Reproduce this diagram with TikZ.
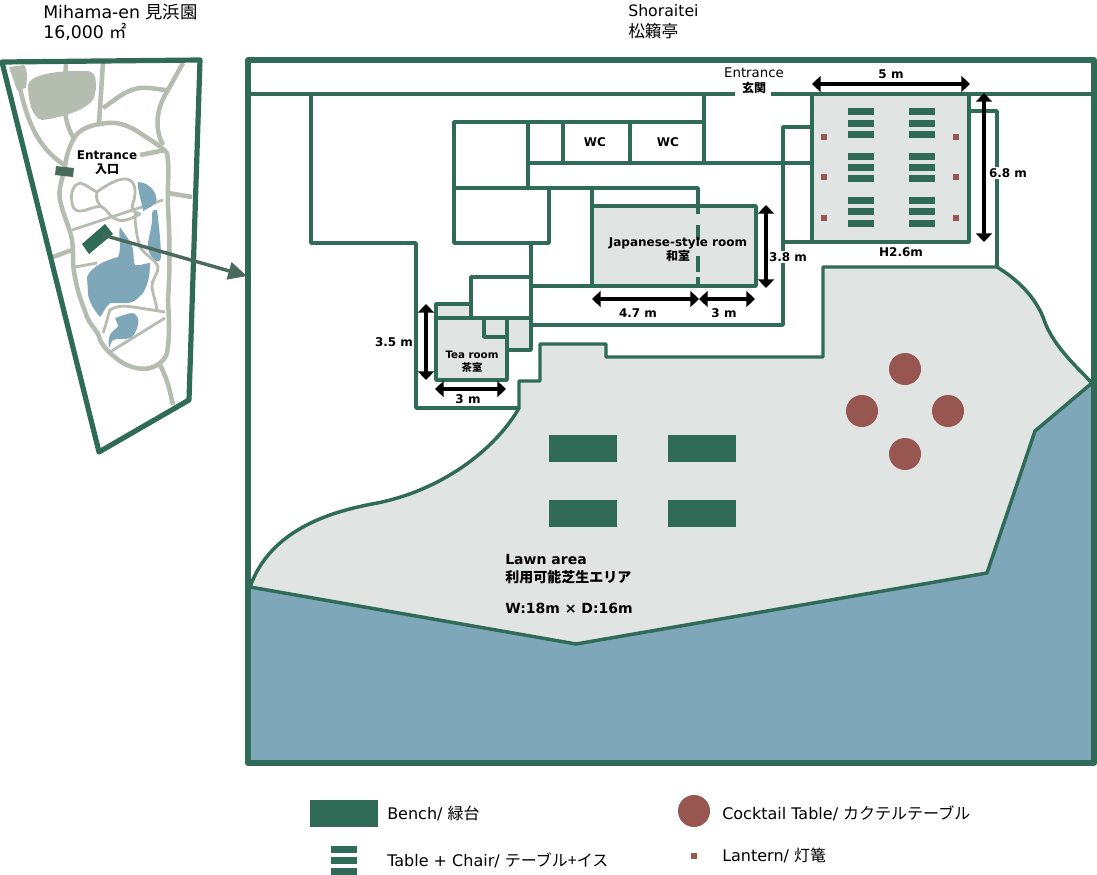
\documentclass[tikz,border=0pt]{standalone}
\usepackage{fontspec}
\setmainfont{DejaVu Sans}
\newfontfamily\jpfont{Noto Sans CJK JP}
\newcommand{\jp}[1]{{\jpfont #1}}
\usetikzlibrary{arrows.meta}
\definecolor{planGreen}{HTML}{2F6B57}
\definecolor{markGreen}{HTML}{4A6B5B}
\definecolor{lawnGrey}{HTML}{E0E4E2}
\definecolor{waterBlue}{HTML}{7FA7BA}
\definecolor{pathGrey}{HTML}{B5BCB0}
\definecolor{tableBrown}{HTML}{985650}

\begin{document}
\begin{tikzpicture}[x=0.75pt, y=-0.75pt,
	wall/.style={draw=planGreen, line width=2.6pt, line join=round},
	frameline/.style={draw=planGreen, line width=3.9pt, line join=round},
	gardenpath/.style={draw=pathGrey, line width=3.4pt, line join=round},
	thinpath/.style={draw=pathGrey, line width=2.1pt, line join=round},
	dimarrow/.style={draw=black, line width=2.5pt, {Triangle[length=6.5pt, width=12pt]}-{Triangle[length=6.5pt, width=12pt]}},
	bench/.style={rectangle, fill=planGreen, inner sep=0pt, minimum width=51pt, minimum height=20.25pt},
	tablebar/.style={rectangle, fill=planGreen, inner sep=0pt, minimum width=20pt, minimum height=5.25pt},
	lantern/.style={rectangle, fill=tableBrown, inner sep=0pt, minimum size=5pt},
	cocktail/.style={circle, fill=tableBrown, inner sep=0pt, minimum size=24pt},
	titlelabel/.style={inner sep=0pt, anchor=west, font=\fontsize{13}{15}\selectfont},
	dimlabel/.style={inner sep=1pt, font=\fontsize{9}{11}\selectfont\bfseries},
	roomlabel/.style={inner sep=0pt, align=center, font=\fontsize{9}{10.5}\selectfont\bfseries},
	legendlabel/.style={inner sep=0pt, anchor=west, font=\fontsize{12}{14}\selectfont},
	lawnlabel/.style={inner sep=0pt, anchor=west, font=\fontsize{10.5}{13}\selectfont\bfseries}]
	\useasboundingbox (0,0) rectangle (1097,875);

	\fill[pathGrey] (28,85) .. controls (30,74) and (60,70) .. (88,71) .. controls (98,72) and (97,88) .. (94,98) .. controls (88,110) and (60,118) .. (42,120) .. controls (32,118) and (28,100) .. (28,85) -- cycle;
	\fill[pathGrey] (9,67) -- (24,65) .. controls (28,70) and (27,80) .. (26,88) -- (17,90) -- cycle;
	\draw[gardenpath] (20,88) .. controls (28,125) and (40,150) .. (66,166);
	\draw[gardenpath] (66,63) .. controls (65,85) and (60,115) .. (73,137);
	\draw[gardenpath] (103,63) -- (99,123);
	\draw[gardenpath] (103,108) .. controls (115,100) and (125,90) .. (140,88) .. controls (150,87) and (160,90) .. (168,90) -- (183,63);
	\draw[gardenpath] (168,90) .. controls (155,110) and (155,130) .. (163,145);
	\draw[gardenpath] (140,155) -- (165,150);
	\draw[gardenpath] (168,193) -- (192,197);
	\draw[gardenpath] (53,257) -- (72,250);
	\draw[gardenpath] (160,365) .. controls (168,380) and (170,392) .. (173,405);
	\draw[gardenpath] (107,123) .. controls (88,125) and (78,130) .. (73,140) .. controls (68,150) and (66,158) .. (65,167) .. controls (62,180) and (58,190) .. (60,200) .. controls (63,215) and (70,228) .. (72,240) .. controls (74,255) and (72,265) .. (75,277) .. controls (78,295) and (84,308) .. (87,317) .. controls (92,328) and (98,330) .. (100,340) .. controls (105,350) and (115,358) .. (123,363) .. controls (132,368) and (142,370) .. (150,368) .. controls (158,366) and (165,360) .. (167,353) .. controls (170,335) and (169,320) .. (168,300) .. controls (170,270) and (170,240) .. (168,207) .. controls (167,185) and (170,170) .. (167,153) .. controls (160,145) and (150,140) .. (140,133) .. controls (128,125) and (118,122) .. (107,123) -- cycle;
	\draw[thinpath] (72,230) -- (163,200);
	\draw[thinpath] (72,202) .. controls (70,192) and (74,184) .. (80,183) .. controls (86,184) and (92,190) .. (97,192) .. controls (105,186) and (118,178) .. (126,179) .. controls (136,180) and (136,192) .. (134,200) .. controls (132,205) and (131,210) .. (135,212) -- (140,214) .. controls (133,218) and (124,222) .. (118,220) .. controls (110,218) and (106,208) .. (102,207) .. controls (95,205) and (85,212) .. (78,211) .. controls (74,210) and (72,206) .. (72,202) -- cycle;
	\draw[thinpath] (97,192) .. controls (95,198) and (98,204) .. (102,207);
	\draw[thinpath] (135,213) .. controls (135,225) and (137,238) .. (140,247) .. controls (146,256) and (156,260) .. (158,267) .. controls (158,275) and (151,280) .. (152,287) .. controls (153,295) and (156,302) .. (157,310);
	\draw[thinpath] (75,267) -- (97,263);
	\draw[thinpath] (103,333) .. controls (107,322) and (108,315) .. (110,310) .. controls (118,305) and (125,306) .. (133,307) -- (165,312);
	\draw[thinpath] (110,352) -- (165,318);

	\fill[waterBlue] (87,277) .. controls (90,268) and (105,260) .. (118,257) .. controls (122,250) and (118,235) .. (120,227) .. controls (125,235) and (132,242) .. (133,250) .. controls (134,255) and (133,262) .. (135,265) .. controls (140,266) and (146,263) .. (150,263) .. controls (150,275) and (148,285) .. (143,293) .. controls (135,302) and (130,304) .. (123,303) -- (110,303) .. controls (106,306) and (104,312) .. (100,317) .. controls (94,310) and (88,300) .. (88,293) -- cycle;
	\fill[waterBlue] (138,182) .. controls (145,182) and (150,186) .. (153,190) .. controls (158,197) and (158,203) .. (152,206) -- (143,211) .. controls (142,202) and (137,190) .. (138,182) -- cycle;
	\fill[waterBlue] (152,213) .. controls (153,210) and (156,209) .. (157,210) .. controls (159,225) and (161,245) .. (161,257) .. controls (161,262) and (157,262) .. (155,260) .. controls (150,256) and (147,250) .. (148,243) .. controls (150,232) and (153,222) .. (152,213) -- cycle;
	\fill[waterBlue] (115,318) .. controls (122,316) and (128,313) .. (133,313) .. controls (138,315) and (139,320) .. (138,325) .. controls (136,332) and (134,336) .. (130,338) .. controls (124,340) and (117,338) .. (113,340) .. controls (111,342) and (110,346) .. (109,348) .. controls (108,342) and (109,338) .. (110,335) .. controls (112,330) and (119,328) .. (118,325) -- cycle;

	\fill[markGreen] (56,166) -- (74,168) -- (73,177) -- (55,175) -- cycle;
	\fill[planGreen] (105,224) -- (113,234) -- (89,254) -- (82,244) -- cycle;
	\draw[frameline] (2,62) -- (200,60) -- (189,400) -- (99,452) -- cycle;

	\fill[lawnGrey] (250,587) .. controls (270,530) and (330,512) .. (372,504) .. controls (440,492) and (495,450) .. (519,408) -- (519,381) -- (540,381) -- (540,344) -- (606,344) -- (606,357) -- (823,357) -- (823,267) -- (997,267) .. controls (1020,281) and (1035,298) .. (1043,317) .. controls (1052,345) and (1075,365) .. (1092,383) -- (1035,431) -- (987,573) -- (576,644) -- cycle;
	\fill[waterBlue] (250,587) -- (576,644) -- (987,573) -- (1035,431) -- (1092,383) -- (1094,763) -- (250,763) -- cycle;
	\draw[wall] (250,587) .. controls (270,530) and (330,512) .. (372,504) .. controls (440,492) and (495,450) .. (519,408) -- (519,381) -- (540,381) -- (540,344) -- (606,344) -- (606,357) -- (823,357) -- (823,267) -- (997,267) .. controls (1020,281) and (1035,298) .. (1043,317) .. controls (1052,345) and (1075,365) .. (1092,383) -- (1035,431) -- (987,573) -- (576,644) -- cycle;

	\draw[wall] (250,94) -- (735,94);
	\draw[wall] (771,94) -- (1094,94);
	\draw[wall] (311,94) -- (311,243) -- (416,243) -- (416,408) -- (519,408);
	\draw[wall] (704,94) -- (704,163);
	\draw[wall] (454,188) -- (454,122) -- (704,122);
	\draw[wall] (528,122) -- (528,188);
	\draw[wall] (563,122) -- (563,163);
	\draw[wall] (630,122) -- (630,163);
	\draw[wall] (528,163) -- (812,163);
	\draw[wall] (454,188) -- (698,188) -- (698,206);
	\draw[wall] (454,188) -- (454,243) -- (549,243) -- (549,188);
	\draw[wall] (531,243) -- (531,325) -- (783,325) -- (783,127) -- (812,127);
	\draw[wall] (783,242) -- (812,242);
	\draw[wall] (531,286) -- (592,286);
	\draw[wall] (592,188) -- (592,206);
	\draw[wall, fill=lawnGrey] (592,206) rectangle (756,286);
	\draw[wall] (698,206) -- (698,214);
	\draw[wall] (698,225) -- (698,240);
	\draw[wall] (698,256) -- (698,272);
	\draw[wall] (698,277) -- (698,286);
	\draw[wall, fill=lawnGrey] (436,304) rectangle (471,318);
	\draw[wall, fill=lawnGrey] (507,318) rectangle (531,350);
	\draw[wall, fill=lawnGrey] (436,318) rectangle (507,380);
	\draw[wall] (484,318) -- (484,337) -- (507,337);
	\draw[wall] (471,318) -- (471,277) -- (531,277);
	\draw[wall] (507,318) -- (531,318);
	\draw[wall, fill=lawnGrey] (812,94) rectangle (969,242);
	\draw[wall] (969,111) -- (997,111) -- (997,267);
	\draw[frameline] (248,60) rectangle (1094,763);

	\node[tablebar] (ta1) at (861,111.5) {};
	\node[tablebar] (ta2) at (861,123) {};
	\node[tablebar] (ta3) at (861,134.5) {};
	\node[tablebar] (ta4) at (861,156.5) {};
	\node[tablebar] (ta5) at (861,167.5) {};
	\node[tablebar] (ta6) at (861,178.5) {};
	\node[tablebar] (ta7) at (861,200.5) {};
	\node[tablebar] (ta8) at (861,211.5) {};
	\node[tablebar] (ta9) at (861,223.5) {};
	\node[tablebar] (tb1) at (922,111.5) {};
	\node[tablebar] (tb2) at (922,123) {};
	\node[tablebar] (tb3) at (922,134.5) {};
	\node[tablebar] (tb4) at (922,156.5) {};
	\node[tablebar] (tb5) at (922,167.5) {};
	\node[tablebar] (tb6) at (922,178.5) {};
	\node[tablebar] (tb7) at (922,200.5) {};
	\node[tablebar] (tb8) at (922,211.5) {};
	\node[tablebar] (tb9) at (922,223.5) {};
	\node[lantern] (la1) at (824,137) {};
	\node[lantern] (la2) at (824,177) {};
	\node[lantern] (la3) at (824,218) {};
	\node[lantern] (lb1) at (956,137) {};
	\node[lantern] (lb2) at (956,177) {};
	\node[lantern] (lb3) at (956,218) {};
	\node[cocktail] (c1) at (905,369) {};
	\node[cocktail] (c2) at (862,411) {};
	\node[cocktail] (c3) at (948,411) {};
	\node[cocktail] (c4) at (905,454) {};
	\node[bench] (b1) at (583,448.5) {};
	\node[bench] (b2) at (702,448.5) {};
	\node[bench] (b3) at (583,513.5) {};
	\node[bench] (b4) at (702,513.5) {};

	\coordinate (mark) at (103,235);
	\coordinate (framein) at (247,276);
	\draw[draw=markGreen, line width=2.6pt, -{Triangle[length=14pt, width=13pt]}] (mark) -- (framein);

	\coordinate (d5l) at (812,84);
	\coordinate (d5r) at (970,84);
	\coordinate (d68t) at (984,93);
	\coordinate (d68b) at (984,242);
	\coordinate (d38t) at (766,205);
	\coordinate (d38b) at (766,288);
	\coordinate (d47l) at (592,299);
	\coordinate (d47r) at (699,299);
	\coordinate (d3r) at (755,299);
	\coordinate (d35t) at (426,304);
	\coordinate (d35b) at (426,380);
	\coordinate (d3tl) at (435,389);
	\coordinate (d3tr) at (506,389);
	\draw[dimarrow] (d5l) -- (d5r);
	\draw[dimarrow] (d68t) -- (d68b);
	\draw[dimarrow] (d38t) -- (d38b);
	\draw[dimarrow] (d47l) -- (d47r);
	\draw[dimarrow] (d47r) -- (d3r);
	\draw[dimarrow] (d35t) -- (d35b);
	\draw[dimarrow] (d3tl) -- (d3tr);

	\node[dimlabel] (l5) at (891,74) {5 m};
	\node[dimlabel, fill=white] (l68) at (1008,173) {6.8 m};
	\node[dimlabel, fill=white] (l38) at (788,257) {3.8 m};
	\node[dimlabel] (l47) at (638,313) {4.7 m};
	\node[dimlabel] (l3a) at (724,313) {3 m};
	\node[dimlabel] (l35) at (394,342) {3.5 m};
	\node[dimlabel] (l3b) at (468,399) {3 m};
	\node[dimlabel] (lh) at (901,252) {H2.6m};
	\node[dimlabel] (wc1) at (595,142) {WC};
	\node[dimlabel] (wc2) at (668,142) {WC};
	\node[roomlabel, font=\fontsize{10}{11}\selectfont] (gate) at (754,81) {Entrance\\\textbf{\fontsize{9}{11}\selectfont\jp{玄関}}};
	\node[roomlabel] (jroom) at (678,250) {Japanese-style room\\\jp{和室}};
	\node[roomlabel, font=\fontsize{7.7}{9.5}\selectfont\bfseries] (troom) at (472,362) {Tea room\\\jp{茶室}};
	\node[roomlabel] (mapgate) at (107,163) {Entrance\\\jp{入口}};
	\node[titlelabel] (t1) at (43,12) {Mihama-en \jp{見浜園}};
	\node[titlelabel] (t2) at (43,32) {16,000 \jp{㎡}};
	\node[titlelabel, font=\fontsize{11.8}{15}\selectfont] (t3) at (628,11) {Shoraitei};
	\node[titlelabel, font=\fontsize{12.5}{15}\selectfont] (t4) at (628,31) {\jp{松籟亭}};
	\node[lawnlabel] (lawn1) at (505,559) {Lawn area};
	\node[lawnlabel] (lawn2) at (505,577) {\jp{利用可能芝生エリア}};
	\node[lawnlabel] (lawn3) at (505,608) {W:18m × D:16m};

	\node[bench] (kb) at (344,813.5) {};
	\node[tablebar] (kt1) at (344,849) {};
	\node[tablebar] (kt2) at (344,860) {};
	\node[tablebar] (kt3) at (344,871) {};
	\node[cocktail] (kc) at (694,811) {};
	\node[lantern] (kl) at (694,856) {};
	\node[legendlabel] (kbt) at (387,813) {Bench/ \jp{緑台}};
	\node[legendlabel] (ktt) at (387,860) {Table + Chair/ \jp{テーブル+イス}};
	\node[legendlabel] (kct) at (722,813) {Cocktail Table/ \jp{カクテルテーブル}};
	\node[legendlabel] (klt) at (722,855) {Lantern/ \jp{灯篭}};
\end{tikzpicture}
\end{document}
